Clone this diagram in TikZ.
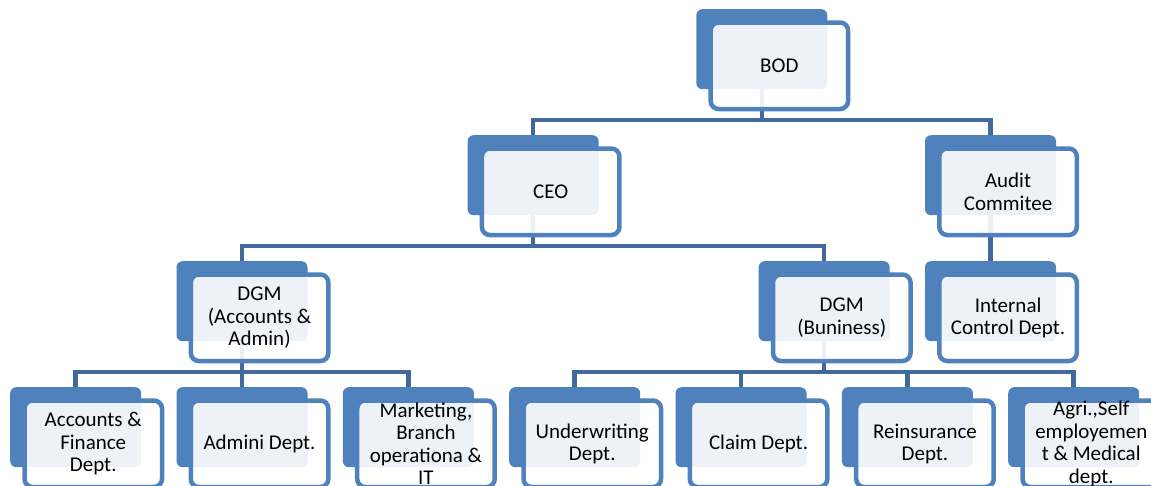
\documentclass[tikz,border=0pt]{standalone}
\usepackage{fontspec}
\setmainfont{Carlito}
\pgfdeclarelayer{bg}
\pgfsetlayers{bg,main}
\definecolor{accent}{HTML}{4F81BD}
\definecolor{conn}{HTML}{41699C}
\tikzset{
  backbox/.style={rectangle, rounded corners=6pt, fill=accent, minimum width=131pt,
    minimum height=80pt, inner sep=0pt, anchor=north west},
  frontbox/.style={rectangle, rounded corners=8pt, draw=accent, line width=4.5pt,
    fill=white, fill opacity=0.9, text opacity=1, minimum width=137.5pt,
    minimum height=86.5pt, inner sep=0pt, align=center,
    font=\fontsize{21}{22.5}\selectfont, anchor=north west},
  link/.style={draw=conn, line width=4.5pt}
}
\newcommand\orgbox[4]{%
  \node[backbox] (#1-b) at (#2,#3) {};
  \node[frontbox] (#1) at (#2+12.25,#3+11.25) {#4};
}
\begin{document}
\begin{tikzpicture}[x=1pt,y=-1pt]
\useasboundingbox (0,0) rectangle (1151,485);
\clip (0,0) rectangle (1151,485);
% row 1
\orgbox{bod}{696.1}{9}{BOD}
% row 2
\orgbox{ceo}{467.4}{135}{CEO}
\orgbox{aud}{924.8}{135}{Audit\\Commitee}
% row 3
\orgbox{dgma}{176.3}{261}{DGM\\(Accounts \&\\Admin)}
\orgbox{dgmb}{758.5}{261}{DGM\\(Buniness)}
\orgbox{icd}{924.8}{261}{Internal\\Control Dept.}
% row 4
\orgbox{acc}{10}{387}{Accounts \&\\Finance\\Dept.}
\orgbox{adm}{176.3}{387}{Admini Dept.}
\orgbox{mkt}{342.7}{387}{Marketing,\\Branch\\operationa \&\\IT}
\orgbox{und}{509}{387}{Underwriting\\Dept.}
\orgbox{clm}{675.3}{387}{Claim Dept.}
\orgbox{rei}{841.7}{387}{Reinsurance\\Dept.}
\orgbox{agr}{1008}{387}{Agri.,Self\\employemen\\t \& Medical\\dept.}
% connectors
\begin{pgfonlayer}{bg}
\foreach \p/\c in {bod/ceo, bod/aud, ceo/dgma, ceo/dgmb, aud/icd,
    dgma/acc, dgma/adm, dgma/mkt,
    dgmb/und, dgmb/clm, dgmb/rei, dgmb/agr}
  \draw[link] (\p-b.center) |- ([yshift=15pt]\c-b.north) -- (\c-b.center);
\end{pgfonlayer}
\end{tikzpicture}
\end{document}
